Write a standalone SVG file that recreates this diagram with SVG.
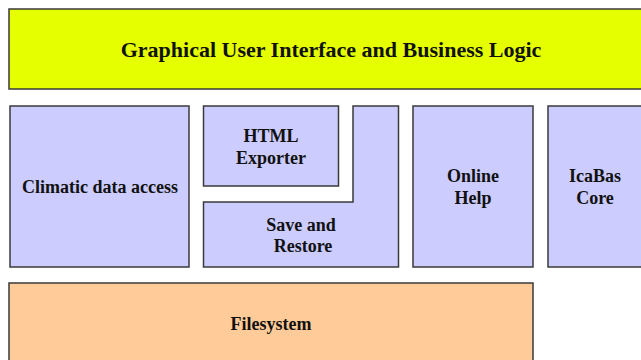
<svg xmlns="http://www.w3.org/2000/svg" width="641" height="360" viewBox="0 0 641 360">
  <style>
    .box { stroke: #3a3a3a; stroke-width: 1.5; }
    .gui { fill: #e6ff00; }
    .mod { fill: #ccccff; }
    .fs { fill: #ffcc99; }
    text { font-family: "Liberation Serif", "Times New Roman", serif; font-weight: bold; fill: #111; text-anchor: middle; }
    .big { font-size: 22px; }
    .lbl { font-size: 18px; }
  </style>
  <rect width="641" height="360" fill="#ffffff"/>

  <g id="gui">
    <rect class="box gui" x="9" y="9" width="640" height="80"/>
    <text class="big" x="331" y="57">Graphical User Interface and Business Logic</text>
  </g>

  <g id="climatic">
    <rect class="box mod" x="10" y="106" width="179" height="161"/>
    <text class="lbl" x="100" y="193">Climatic data access</text>
  </g>

  <g id="html-exporter">
    <rect class="box mod" x="203.5" y="106" width="135" height="80"/>
    <text class="lbl" x="271" y="142">HTML</text>
    <text class="lbl" x="271" y="164">Exporter</text>
  </g>

  <g id="save-restore">
    <path class="box mod" d="M353 106 H398.5 V267 H203.5 V202 H353 Z"/>
    <text class="lbl" x="301" y="231">Save and</text>
    <text class="lbl" x="303" y="252">Restore</text>
  </g>

  <g id="online-help">
    <rect class="box mod" x="413" y="106" width="120" height="161"/>
    <text class="lbl" x="473" y="182">Online</text>
    <text class="lbl" x="473" y="204">Help</text>
  </g>

  <g id="icabas-core">
    <rect class="box mod" x="548" y="106" width="100" height="161"/>
    <text class="lbl" x="595" y="182">IcaBas</text>
    <text class="lbl" x="595" y="204">Core</text>
  </g>

  <g id="filesystem">
    <rect class="box fs" x="9" y="283" width="524" height="90"/>
    <text class="lbl" x="271" y="330">Filesystem</text>
  </g>

  <g id="connectors"></g>
</svg>
